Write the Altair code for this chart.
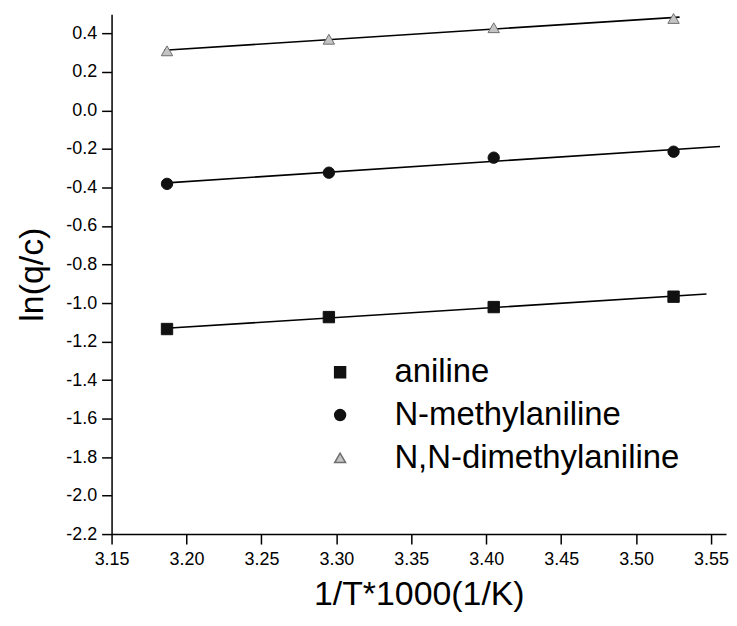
import altair as alt
import pandas as pd
import numpy as np

series = ["aniline", "N-methylaniline", "N,N-dimethylaniline"]
x_vals = [3.187, 3.295, 3.405, 3.525]
aniline = [-1.135, -1.073, -1.021, -0.967]
n_methyl = [-0.381, -0.323, -0.245, -0.214]
nn_dimethyl = [0.310, 0.370, 0.430, 0.478]
fit_start = [3.189, 3.187, 3.185]
fit_end = [3.547, 3.556, 3.529]

x_major = [3.15, 3.20, 3.25, 3.30, 3.35, 3.40, 3.45, 3.50, 3.55]
y_major = [-2.2, -2.0, -1.8, -1.6, -1.4, -1.2, -1.0, -0.8, -0.6, -0.4, -0.2, 0.0, 0.2, 0.4]

x_ticks = sorted(x_major + [round(a + 0.025, 3) for a in x_major])
y_ticks = sorted(y_major + [round(a + 0.1, 2) for a in y_major])

values = [aniline, n_methyl, nn_dimethyl]
rows = []
for s, ys in zip(series, values):
    for x, y in zip(x_vals, ys):
        rows.append({"series": s, "x": x, "y": y})
pts = pd.DataFrame(rows)

fit_rows = []
for s, ys, x0, x1 in zip(series, values, fit_start, fit_end):
    m, b = np.polyfit(x_vals, ys, 1)
    fit_rows.append({"series": s, "x": x0, "y": m * x0 + b})
    fit_rows.append({"series": s, "x": x1, "y": m * x1 + b})
fits = pd.DataFrame(fit_rows)

font = "Liberation Sans"

x_scale = alt.Scale(domain=[3.15, 3.56], nice=False, zero=False)
y_scale = alt.Scale(domain=[-2.2, 0.5], nice=False, zero=False)

x_minor = "abs(round(datum.value*40)) % 2 == 1"
y_minor = "abs(round(datum.value*10)) % 2 == 1"

x_axis = alt.Axis(
    values=x_ticks,
    labelExpr=f"{x_minor} ? '' : format(datum.value, '.2f')",
    tickSize={"condition": {"test": x_minor, "value": 5}, "value": 10},
    labelFlush=False, labelOverlap=False, grid=False,
    title="1/T*1000(1/K)", titleFontSize=34, titleFontWeight="normal",
    titlePadding=9, labelFontSize=18, labelPadding=7,
)
y_axis = alt.Axis(
    values=y_ticks,
    labelExpr=f"{y_minor} ? '' : replace(format(datum.value, '.1f'), '\u2212', '-')",
    tickSize={"condition": {"test": y_minor, "value": 5}, "value": 10},
    labelFlush=False, labelOverlap=False, grid=False,
    title="ln(q/c)", titleFontSize=34, titleFontWeight="normal",
    titlePadding=16, labelFontSize=18, labelPadding=5,
)

lines = alt.Chart(fits).mark_line(color="black", strokeWidth=1.6).encode(
    x=alt.X("x:Q", scale=x_scale, axis=x_axis),
    y=alt.Y("y:Q", scale=y_scale, axis=y_axis),
    detail="series:N",
)

legend = alt.Legend(
    title=None, orient="none", legendX=213, legendY=343,
    labelFontSize=33, labelFont=font, labelOffset=38, rowPadding=9,
    symbolSize=120, padding=0, labelLimit=600,
)

points = alt.Chart(pts).mark_point(filled=True, size=130, opacity=1, strokeWidth=1).encode(
    x=alt.X("x:Q", scale=x_scale),
    y=alt.Y("y:Q", scale=y_scale),
    shape=alt.Shape("series:N", scale=alt.Scale(domain=series, range=["square", "circle", "triangle-up"]), legend=legend),
    fill=alt.Fill("series:N", scale=alt.Scale(domain=series, range=["#111111", "#111111", "#c4c4c4"]), legend=legend),
    stroke=alt.Stroke("series:N", scale=alt.Scale(domain=series, range=["#111111", "#111111", "#6e6e6e"]), legend=legend),
)

chart = alt.layer(lines, points).properties(
    width=617, height=522,
    autosize=alt.AutoSizeParams(type="none"),
    padding={"left": 104, "top": 5, "right": 3, "bottom": 80},
).configure_view(stroke=None).configure_axis(
    domainColor="black", domainWidth=1.5, tickColor="black", tickWidth=1.5,
    labelColor="black", titleColor="black", labelFont=font, titleFont=font,
).configure_legend(labelColor="black")

chart.save("out.html", embed_options={"renderer": "svg", "actions": False})
